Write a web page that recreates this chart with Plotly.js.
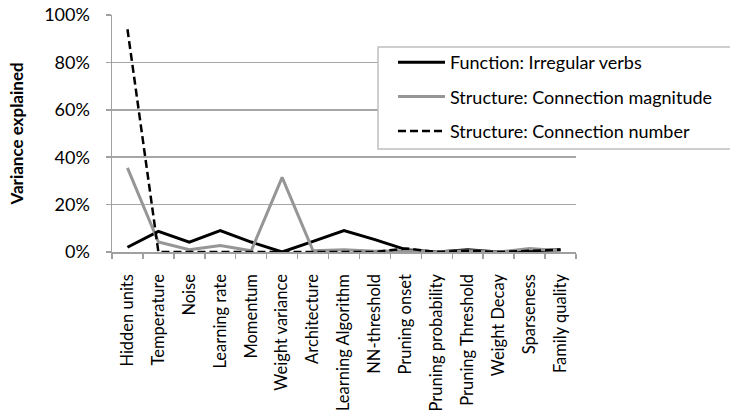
<!DOCTYPE html>
<html>
<head>
<meta charset="utf-8">
<script src="https://cdn.plot.ly/plotly-3.0.1.min.js"></script>
<style>html,body{margin:0;padding:0;background:#fff;}#chart{width:730px;height:412px;}</style>
</head>
<body>
<div id="chart"></div>
<script>
const categories = ["Hidden units","Temperature","Noise","Learning rate","Momentum","Weight variance","Architecture","Learning Algorithm","NN-threshold","Pruning onset","Pruning probability","Pruning Threshold","Weight Decay","Sparseness","Family quality"];
const functionIrregular = [0.020, 0.087, 0.042, 0.090, 0.042, 0.000, 0.045, 0.090, 0.052, 0.010, 0.000, 0.010, 0.000, 0.005, 0.010];
const connMagnitude = [0.355, 0.042, 0.010, 0.027, 0.005, 0.315, 0.005, 0.010, 0.003, 0.005, 0.000, 0.005, 0.000, 0.015, 0.005];
const connNumber = [0.940, 0.000, 0.000, 0.000, 0.000, 0.000, 0.000, 0.000, 0.000, 0.015, 0.000, 0.005, 0.000, 0.005, 0.010];
const seriesNames = ["Function: Irregular verbs","Structure: Connection magnitude","Structure: Connection number"];
const yTickVals = [0, 0.2, 0.4, 0.6, 0.8, 1.0];
const yTickText = ["0%","20%","40%","60%","80%","100%"];

const font = "Lato, 'Open Sans', sans-serif";
const fs = 18;
const traces = [
  {x: categories, y: functionIrregular, name: seriesNames[0], type: "scatter", mode: "lines",
   line: {color: "#000000", width: 3}, legendgroup: "a", cliponaxis: false},
  {x: categories, y: connMagnitude, name: seriesNames[1], type: "scatter", mode: "lines",
   line: {color: "#969696", width: 3}, legendgroup: "b", cliponaxis: false},
  {x: categories, y: connNumber, name: seriesNames[2], type: "scatter", mode: "lines",
   line: {color: "#000000", width: 2.5, dash: "8px,4px"}, legendgroup: "c", cliponaxis: false}
];
const layout = {
  width: 730, height: 412,
  margin: {l: 112, r: 154, t: 15, b: 160},
  paper_bgcolor: "#ffffff", plot_bgcolor: "#ffffff",
  font: {family: font, color: "#000000", size: fs},
  showlegend: true,
  legend: {x: 0.6056, y: 0.8776, xanchor: "left", yanchor: "top",
    bgcolor: "rgba(0,0,0,0)", borderwidth: 0,
    font: {family: font, size: fs, color: "#000000"},
    traceorder: "grouped", tracegroupgap: 8, itemwidth: 47},
  shapes: [
    {type: "rect", xref: "paper", yref: "paper", x0: 0.5733, x1: 1.34, y0: 0.4346, y1: 0.865,
     line: {color: "#bfbfbf", width: 1.5}, fillcolor: "#ffffff", layer: "above"}
  ],
  xaxis: {type: "category", range: [-0.5, 14.5], tickangle: -90,
    tickson: "boundaries", ticks: "outside", ticklen: 5, tickcolor: "#a0a0a0", tickwidth: 1.5,
    showline: true, linecolor: "#a0a0a0", linewidth: 1.5, showgrid: false, zeroline: false,
    ticklabelstandoff: 14,
    tickfont: {family: font, size: 16.5, color: "#000000"}, fixedrange: true},
  yaxis: {range: [0, 1], tickvals: yTickVals, ticktext: yTickText,
    ticks: "outside", ticklen: 5, tickcolor: "#a0a0a0", tickwidth: 1.5,
    showline: true, linecolor: "#a0a0a0", linewidth: 1.5,
    showgrid: true, gridcolor: "#a6a6a6", gridwidth: 1.5, zeroline: false,
    ticklabelstandoff: 12,
    tickfont: {family: font, size: fs, color: "#000000"},
    title: {text: "<b>Variance explained</b>", font: {family: font, size: 17, color: "#000000"}, standoff: 16},
    fixedrange: true}
};
Plotly.newPlot("chart", traces, layout, {displayModeBar: false, staticPlot: true});
</script>
</body>
</html>
